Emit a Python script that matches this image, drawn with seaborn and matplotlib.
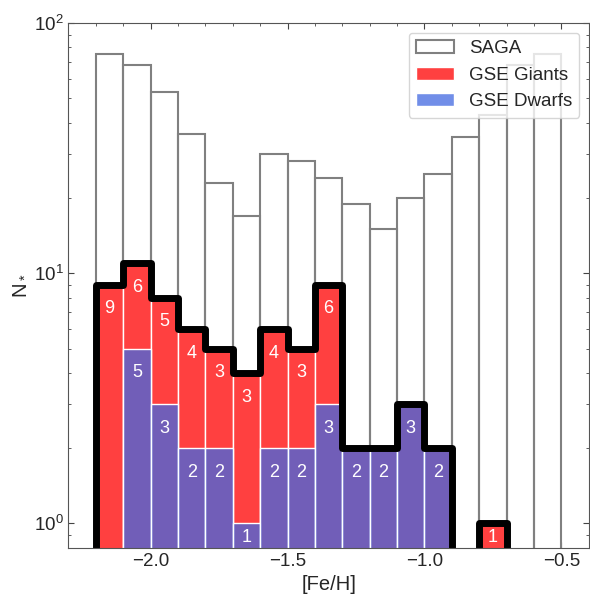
import numpy as np
import pandas as pd
import matplotlib
matplotlib.use("Agg")
import matplotlib.pyplot as plt
from matplotlib.ticker import MultipleLocator
import seaborn as sns

sns.set_style("ticks")
plt.rcParams['font.family'] = ['Liberation Sans', 'DejaVu Sans']
plt.rcParams['mathtext.fontset'] = 'custom'
plt.rcParams['mathtext.rm'] = 'Liberation Sans'
plt.rcParams['mathtext.it'] = 'Liberation Sans:italic'

# bin edges in [Fe/H], 0.1 dex wide (one empty bin added on each side)
edges = [round(-2.3 + 0.1 * i, 2) for i in range(20)]
centers = [round(e + 0.05, 3) for e in edges[:-1]]

# counts per bin, -2.3 ... -0.4
saga   = [0, 75, 68, 53, 36, 23, 17, 30, 28, 24, 19, 15, 20, 25, 35, 43, 68, 75, 0]
giants = [0, 9, 6, 5, 4, 3, 3, 4, 3, 6, 0, 0, 0, 0, 0, 1, 0, 0, 0]
dwarfs = [0, 0, 5, 3, 2, 2, 1, 2, 2, 3, 2, 2, 3, 2, 0, 0, 0, 0, 0]
total = [g + d for g, d in zip(giants, dwarfs)]

df = pd.DataFrame({'feh': centers, 'saga': saga, 'giants': giants,
                   'dwarfs': dwarfs, 'total': total})

fig, ax = plt.subplots(figsize=(5.9, 5.94), dpi=100)
fig.subplots_adjust(left=0.116, right=0.998, bottom=0.078, top=0.961)

sns.histplot(data=df, x='feh', weights='saga', bins=edges, fill=False, color='gray',
             linewidth=1.5, ax=ax, label='SAGA')
sns.histplot(data=df, x='feh', weights='total', bins=edges, color='#ff4040', alpha=1,
             edgecolor='white', linewidth=1, ax=ax, label='GSE Giants')
sns.histplot(data=df, x='feh', weights='dwarfs', bins=edges, color='royalblue', alpha=0.75,
             edgecolor='white', linewidth=1, ax=ax, label='GSE Dwarfs')
sns.histplot(data=df, x='feh', weights='total', bins=edges, element='step', fill=False,
             color='black', linewidth=5, ax=ax)

ax.set_yscale('log')
ax.set_xlim(-2.3, -0.4)
ax.set_ylim(0.8, 100)

# count labels inside the bars
for xc, g, d, t in zip(centers, giants, dwarfs, total):
    if g > 0:
        ax.text(xc, max(0.8 * t, 0.88), str(g), color='white', fontsize=13,
                ha='center', va='center')
    if d > 0:
        ax.text(xc, max(0.8 * d, 0.88), str(d), color='white', fontsize=13,
                ha='center', va='center')

ax.xaxis.set_major_locator(MultipleLocator(0.5))
ax.xaxis.set_minor_locator(MultipleLocator(0.1))
ax.tick_params(which='both', direction='in', top=True, right=True, labelsize=13.5,
               color='#444444')
ax.tick_params(which='major', length=4)
ax.tick_params(which='minor', length=2.5)
for s in ax.spines.values():
    s.set_color('#555555')

ax.set_xlabel('[Fe/H]', fontsize=14.5)
ax.set_ylabel('N$_*$', fontsize=14.5)
ax.legend(loc='upper right', fontsize=13.5)

plt.savefig('out.png', dpi=100)
plt.close()
